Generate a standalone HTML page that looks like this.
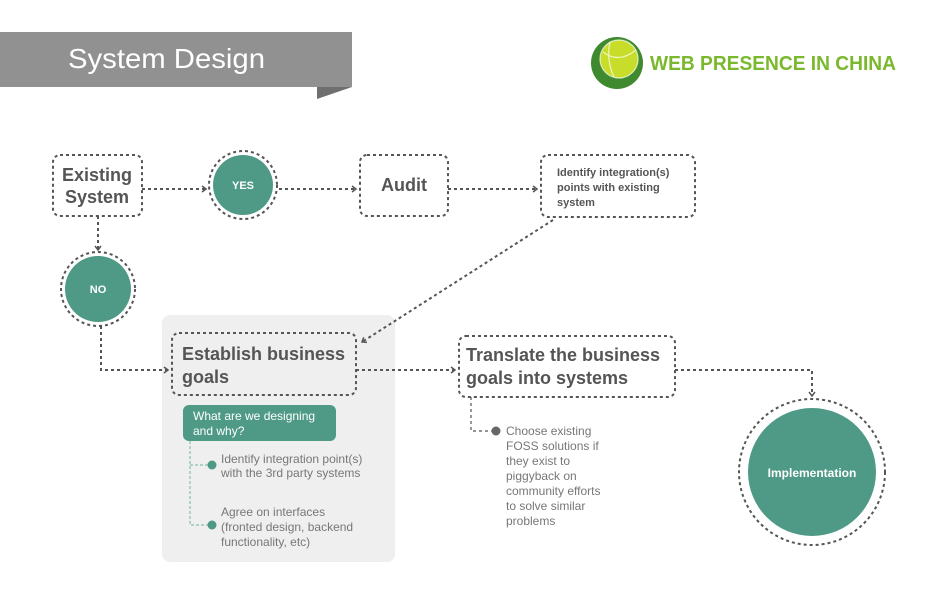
<!DOCTYPE html>
<html><head><meta charset="utf-8"><style>
body{margin:0;background:#fff;}
svg{display:block;font-family:"Liberation Sans",sans-serif;}
</style></head><body>
<svg width="940" height="594" viewBox="0 0 940 594">
<defs><marker id="ar" markerWidth="8" markerHeight="8" refX="5" refY="4" orient="auto" markerUnits="userSpaceOnUse"><path d="M1,1 L5,4 L1,7" fill="none" stroke="#555" stroke-width="1.5"/></marker></defs>
<g>
<rect x="0" y="32" width="352" height="55" fill="#919191"/>
<polygon points="317,87 352,87 317,99" fill="#6f6f6f"/>
<text x="68" y="68" font-size="28" fill="#fff" textLength="197" lengthAdjust="spacingAndGlyphs">System Design</text>
</g>
<g>
<circle cx="617" cy="63" r="26" fill="#3f8a2e"/>
<circle cx="619" cy="59" r="19" fill="#c7dd2a"/>
<circle cx="619" cy="59" r="19" fill="none" stroke="#fff" stroke-width="1.2" opacity="0.7"/>
<path d="M603,52 Q619,64 636,50 M610,42 Q606,60 614,77" stroke="#fff" stroke-width="1.2" fill="none" opacity="0.7"/>
<text x="650" y="70" font-size="20" font-weight="bold" fill="#7ab82d" textLength="246" lengthAdjust="spacingAndGlyphs">WEB PRESENCE IN CHINA</text>
</g>
<g stroke="#555" stroke-width="2" stroke-dasharray="3,3" fill="none">
<rect x="53" y="155" width="89" height="61" rx="7"/>
<rect x="360" y="155" width="88" height="61" rx="7"/>
<rect x="541" y="155" width="154" height="62" rx="7"/>
<circle cx="243" cy="185" r="34"/>
<circle cx="98" cy="289" r="37"/>
</g>
<rect x="162" y="315" width="233" height="247" rx="8" fill="#efefef"/>
<g stroke="#555" stroke-width="2" stroke-dasharray="3,3" fill="none">
<rect x="172" y="333" width="184" height="62" rx="7"/>
<rect x="459" y="336" width="216" height="61" rx="7"/>
<circle cx="812" cy="472" r="73"/>
<path d="M142,189 L206,189" marker-end="url(#ar)"/>
<path d="M279,189 L356,189" marker-end="url(#ar)"/>
<path d="M448,189 L537,189" marker-end="url(#ar)"/>
<path d="M98,216 L98,250" marker-end="url(#ar)"/>
<path d="M553,220 L362,342" marker-end="url(#ar)"/>
<path d="M101,326 L101,370 L168,370" marker-end="url(#ar)"/>
<path d="M356,370 L455,370" marker-end="url(#ar)"/>
<path d="M675,370 L812,370 L812,396" marker-end="url(#ar)"/>
<path d="M471,397 L471,431 L492,431" stroke-width="1.2"/>
</g>
<circle cx="243" cy="185" r="30" fill="#4e9a86"/>
<circle cx="98" cy="289" r="33" fill="#4e9a86"/>
<circle cx="812" cy="472" r="64" fill="#4e9a86"/>
<g fill="#fff" font-weight="bold" text-anchor="middle">
<text x="243" y="189" font-size="11">YES</text>
<text x="98" y="293" font-size="11">NO</text>
<text x="812" y="477" font-size="12">Implementation</text>
</g>
<g fill="#555" font-weight="bold">
<text x="97" y="181" font-size="18" text-anchor="middle">Existing</text>
<text x="97" y="203" font-size="18" text-anchor="middle">System</text>
<text x="404" y="191" font-size="18" text-anchor="middle">Audit</text>
<text x="557" y="176" font-size="11">Identify integration(s)</text>
<text x="557" y="191" font-size="11">points with existing</text>
<text x="557" y="206" font-size="11">system</text>
<text x="182" y="360" font-size="18">Establish business</text>
<text x="182" y="383" font-size="18">goals</text>
<text x="466" y="361" font-size="18">Translate the business</text>
<text x="466" y="384" font-size="18">goals into systems</text>
</g>
<rect x="183" y="405" width="153" height="36" rx="6" fill="#4e9a86"/>
<text x="193" y="420" font-size="12" fill="#fff">What are we designing</text>
<text x="193" y="435" font-size="12" fill="#fff">and why?</text>
<path d="M190,441 L190,525 L208,525 M190,465 L208,465" stroke="#6fb3a2" stroke-width="1" stroke-dasharray="3,2" fill="none"/>
<circle cx="212" cy="465" r="4.5" fill="#4e9a86"/>
<circle cx="212" cy="525" r="4.5" fill="#4e9a86"/>
<circle cx="496" cy="431" r="4.5" fill="#666"/>
<g fill="#777" font-size="12">
<text x="221" y="463">Identify integration point(s)</text>
<text x="221" y="477">with the 3rd party systems</text>
<text x="221" y="516">Agree on interfaces</text>
<text x="221" y="531">(fronted design, backend</text>
<text x="221" y="546">functionality, etc)</text>
<text x="506" y="435">Choose existing</text>
<text x="506" y="450">FOSS solutions if</text>
<text x="506" y="465">they exist to</text>
<text x="506" y="480">piggyback on</text>
<text x="506" y="495">community efforts</text>
<text x="506" y="510">to solve similar</text>
<text x="506" y="525">problems</text>
</g>
</svg>
</body></html>
